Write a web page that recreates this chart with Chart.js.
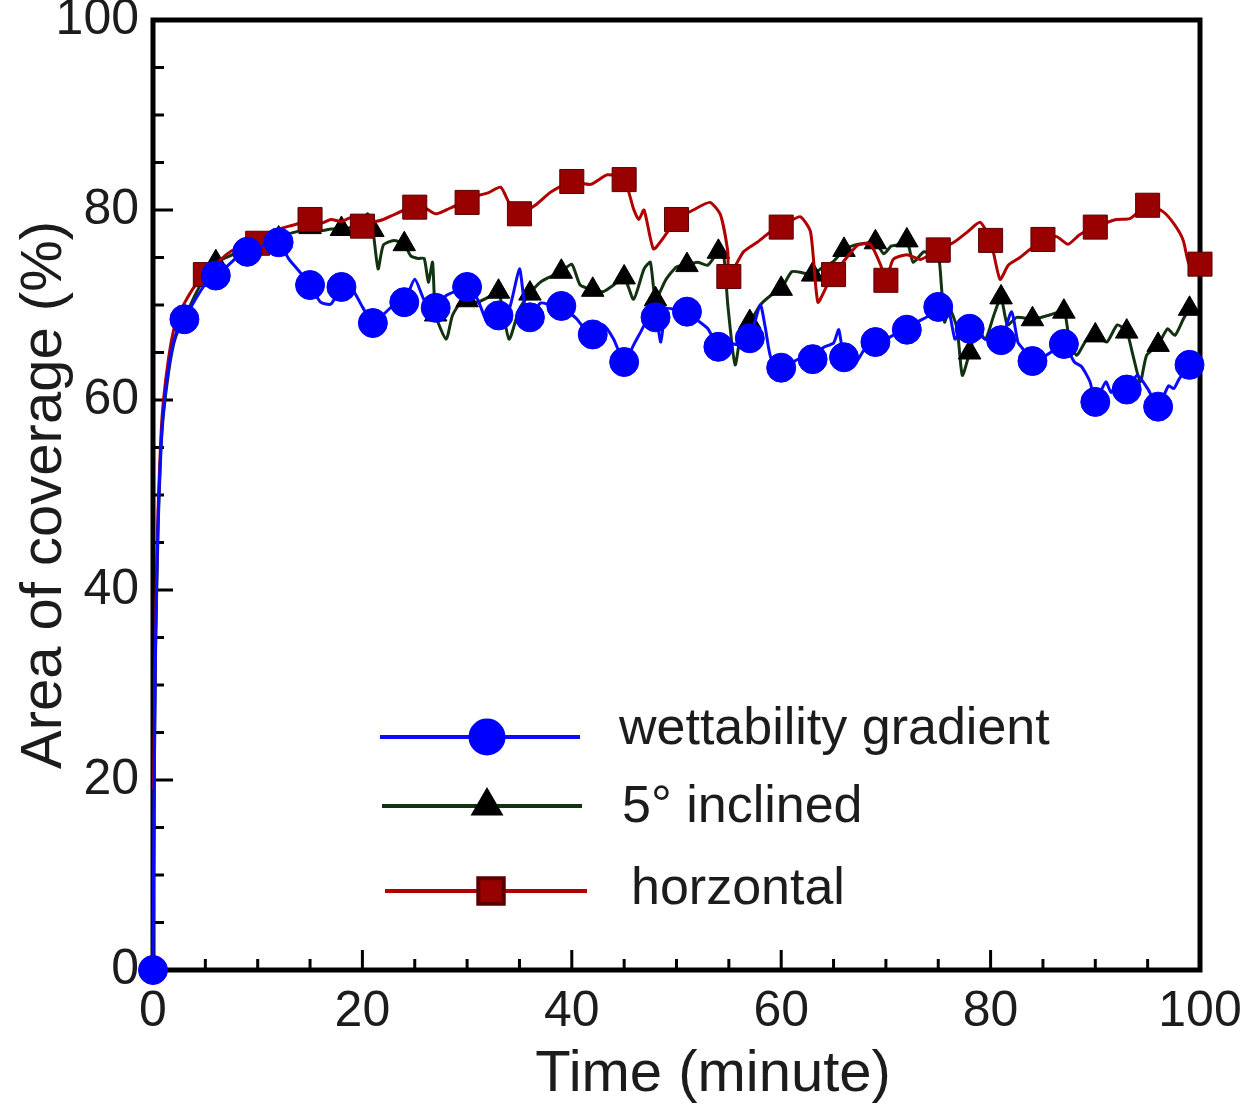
<!DOCTYPE html>
<html>
<head>
<meta charset="utf-8">
<script src="https://cdn.jsdelivr.net/npm/chart.js@4.4.0/dist/chart.umd.min.js"></script>
<style>
  html, body { margin: 0; padding: 0; background: #fff; }
</style>
</head>
<body>
<canvas id="coverage-chart" width="1248" height="1105"></canvas>
<script>
// ---- Data ----
const xTicks = [0, 20, 40, 60, 80, 100];
const yTicks = [0, 20, 40, 60, 80, 100];

const seriesNames = ['wettability gradient', '5\u00B0 inclined', 'horzontal'];

const gradientTime = [0, 0.1, 0.25, 0.5, 0.75, 1, 1.5, 2, 2.5, 3, 4, 5, 6, 7, 8, 9, 10, 11, 12, 13, 14, 15, 16, 17, 18, 19, 20,
  21, 22, 23, 24, 25, 26, 27, 28, 29, 30, 31, 32, 33, 34, 35, 35.5, 36, 37, 38, 39, 40, 40.5, 41, 42, 43, 44, 45, 46,
  46.6, 47, 48, 48.5, 49, 50, 51, 52, 53, 54, 55, 56, 57, 58, 58.5, 59, 60, 61, 62, 63, 64, 65, 65.5, 66, 67, 68, 69,
  70, 71, 72, 73, 74, 75, 75.8, 76.2, 76.6, 77, 78, 79, 79.5, 80, 81, 82, 82.6, 83, 84, 85, 86, 87, 88, 88.7, 89.5,
  90, 91, 91.5, 92, 93, 94, 95, 96, 97, 97.5, 98, 99, 99.5];
const gradientCoverage = [0, 18, 35, 48, 55, 59, 63.5, 66.3, 67.8, 68.5, 70.5, 72.2, 73.1, 74, 75, 75.6, 76, 76.5, 76.6, 74.8, 73.5, 72.1, 70.3, 70.1, 71.9, 71.7, 69.8,
  68.1, 69, 70, 70.3, 72.7, 70.3, 69.7, 71, 71.5, 71.9, 70.6, 68, 68.9, 69.5, 73.8, 70, 68.7, 70.2, 70, 69.9, 69, 68.5, 67.8, 66.9, 67.9, 66.4, 64.0, 66,
  67.2, 68, 68.7, 66.1, 69.6, 69.5, 69.3, 68.4, 67.5, 65.6, 66, 65.8, 66.5, 70, 67.5, 64.5, 63.4, 63.9, 64.5, 64.3, 65.5, 66, 67.4, 64.5, 63.8, 65.4, 66.1,
  66.4, 67, 67.4, 68.2, 68.8, 69.8, 70.3, 68.5, 66.4, 67, 67.5, 66.8, 66.4, 66.5, 66.3, 69.3, 66.1, 65.5, 64.1, 64.5, 65.2, 65.9, 64, 63.5, 61.9,
  59.8, 61.9, 60.8, 61.5, 61.1, 62.6, 61.2, 59.3, 61.5, 61.2, 62.2, 63.7, 64.3];

const inclinedTime = [0, 0.1, 0.25, 0.5, 0.75, 1, 1.5, 2, 2.5, 3, 4, 5, 6, 7, 8, 9, 10, 11, 12, 13, 14, 15, 16, 17, 18, 19, 20,
  20.5, 21, 21.5, 22, 23, 24, 24.6, 25.3, 25.9, 26.3, 26.7, 27, 28, 28.6, 29.4, 30, 31, 32, 33, 34, 35, 36, 37, 38, 39, 40,
  40.8, 42, 43, 44, 45, 45.9, 46.9, 47.5, 48, 49, 50, 51, 52, 53, 54, 54.5, 54.9, 55.6, 56.3, 57, 58, 59, 60, 61, 62, 63,
  64, 65, 66, 67, 68, 69, 69.8, 70.5, 71, 72, 72.6, 73.6, 74.2, 75, 75.3, 75.6, 76.1, 76.8, 77.3, 78, 78.7, 79.5, 80.3, 81,
  81.6, 82.5, 84, 85.5, 87, 87.4, 88.2, 89.2, 90, 91.1, 92.1, 93, 93.6, 94.3, 94.9, 96, 96.9, 97.6, 98.4, 99, 99.5];
const inclinedCoverage = [0, 17, 34, 47, 54.5, 58.5, 63, 66, 67.6, 68.6, 71, 73, 74.5, 75, 75.5, 75.9, 76.3, 76.8, 77, 77.5, 77.8, 78.2, 77.8, 78, 78, 78.2, 78.5,
  79.6, 77.9, 73.8, 76.3, 76.8, 76.4, 75.2, 74.9, 74.9, 72.4, 74.5, 69, 66.4, 68.9, 70.3, 70.5, 70.3, 70.8, 71.4, 66.4, 69.6, 71.2, 72.4, 73, 73.5, 74.3,
  72.1, 71.6, 71.4, 72.1, 72.9, 70.6, 73.8, 74.5, 70.6, 72.7, 74, 74.2, 74.5, 74.2, 75.6, 75.3, 70, 63.7, 67.9, 68.2, 70, 71, 71.7, 73.5, 73.4, 73.2,
  74, 74.6, 75.8, 76.3, 76.5, 76.6, 75.4, 76.2, 76.3, 76.8, 74.5, 75.6, 75.4, 75.2, 72, 68.2, 69.6, 67.5, 62.6, 65, 67.5, 66.4, 68.9, 70.8,
  67.9, 68.7, 68.5, 68.9, 69.3, 67.2, 64.7, 66.4, 66.8, 66.1, 67.9, 67.2, 64.7, 61.9, 64.7, 65.8, 67.5, 66.8, 68.5, 69.6, 70];

const horizontalTime = [0.05, 0.25, 0.5, 0.75, 1, 1.5, 2, 2.5, 3, 4, 5, 6, 7, 8, 9, 10, 11, 12, 13, 14, 15, 16, 17, 18, 19, 20,
  20.5, 21, 22, 23, 24, 25, 26, 27, 28, 29, 30, 31, 32, 33.2, 34, 35, 36.5, 38, 40, 41.8, 43.4, 45, 45.9, 46.4, 46.9, 47.8,
  48.7, 50, 51.6, 53.2, 54.2, 54.9, 55, 56.4, 57.7, 59, 60, 61.8, 62.8, 63.5, 64.4, 65, 65.9, 67.3, 68.5, 69.5, 70, 70.7,
  72, 73.3, 75, 76.5, 77.8, 79, 80, 80.9, 81.7, 82.8, 85, 86.3, 87.4, 88.5, 90, 92, 93.3, 95, 96.5, 97.6, 98.4, 99, 100];
const horizontalCoverage = [19, 37, 49, 56, 60, 64.5, 67.5, 69, 70.2, 72, 73.2, 74.3, 75.3, 76, 76.3, 76.5, 77.6, 78, 78.3, 78.6, 79, 78.6, 79, 78.8, 79.2, 78.3,
  79.3, 78.8, 79, 79.5, 80, 80.3, 80.2, 79.6, 80, 80.5, 80.8, 81.5, 81.8, 82.4, 80.8, 79.6, 80.5, 81.9, 83, 82.7, 83.7, 83.2, 80.1, 79, 80, 75.9,
  77, 79, 80, 80.8, 79.5, 75.6, 73, 75.6, 76.6, 77.7, 78.2, 79.3, 77.7, 70.3, 72.1, 73.2, 74.5, 76.3, 76.4, 74.2, 72.6, 74.8,
  75.3, 74.8, 75.8, 76.6, 77.7, 78.7, 76.8, 72.7, 74.2, 75, 76.9, 77.2, 76.4, 77.4, 78.2, 79, 79.1, 80.5, 79.8, 78.4, 76.8, 74.2, 74.3];

// ---- Helpers ----
const toPoints = function (times, values) {
    return times.map(function (t, i) { return { x: t, y: values[i] }; });
};

// marker only every `step` minutes, like the original plot
const markerEvery = function (step, size) {
    return function (ctx) {
        const t = ctx.raw ? ctx.raw.x : null;
        return (Number.isInteger(t) && t % step === 0) ? size : 0;
    };
};

const FONT = "'Liberation Sans', Arial, sans-serif";
const TEXT_COLOR = '#1c1c1c';

// ---- Frame + inward tick marks + x title ----
const framePlugin = {
    id: 'frame',
    beforeDatasetsDraw: function (chart) {
        const ctx = chart.ctx;
        const area = chart.chartArea;
        const xs = chart.scales.x;
        const ys = chart.scales.y;
        ctx.save();
        ctx.strokeStyle = '#000';
        ctx.lineWidth = 5;
        ctx.strokeRect(area.left, area.top, area.right - area.left, area.bottom - area.top);
        ctx.lineWidth = 3;
        ctx.beginPath();
        for (let v = 5; v < 100; v += 5) {
            const len = (v % 20 === 0) ? 20 : 11;
            const px = xs.getPixelForValue(v);
            ctx.moveTo(px, area.bottom);
            ctx.lineTo(px, area.bottom - len);
            const py = ys.getPixelForValue(v);
            ctx.moveTo(area.left, py);
            ctx.lineTo(area.left + len, py);
        }
        ctx.stroke();

        // x axis title sits a bit right of centre in the original
        ctx.fillStyle = TEXT_COLOR;
        ctx.font = '58px ' + FONT;
        ctx.textAlign = 'center';
        ctx.textBaseline = 'alphabetic';
        ctx.fillText('Time (minute)', xs.getPixelForValue(53.5), 1091);
        ctx.restore();
    }
};

// ---- Legend drawn inside the plot ----
const legendRows = {
    'wettability gradient': { y: 737, x1: 380, x2: 580, mx: 487, tx: 619, ty: 744, r: 16.5 },
    '5\u00B0 inclined': { y: 806, x1: 382, x2: 582, mx: 487, tx: 622, ty: 822, r: 15 },
    'horzontal': { y: 891, x1: 385, x2: 587, mx: 491, tx: 631, ty: 904, r: 18 }
};

const insideLegendPlugin = {
    id: 'insideLegend',
    afterDraw: function (chart) {
        const ctx = chart.ctx;
        ctx.save();
        chart.data.datasets.forEach(function (ds) {
            const row = legendRows[ds.label];
            ctx.strokeStyle = ds.borderColor;
            ctx.lineWidth = 4;
            ctx.beginPath();
            ctx.moveTo(row.x1, row.y);
            ctx.lineTo(row.x2, row.y);
            ctx.stroke();
            ctx.fillStyle = ds.pointBackgroundColor;
            ctx.strokeStyle = ds.pointBorderColor;
            Chart.helpers.drawPoint(ctx, {
                pointStyle: ds.pointStyle,
                radius: row.r,
                rotation: 0,
                borderWidth: 1
            }, row.mx, row.y);
            ctx.fillStyle = TEXT_COLOR;
            ctx.font = '52px ' + FONT;
            ctx.textBaseline = 'alphabetic';
            ctx.textAlign = 'left';
            ctx.fillText(ds.label, row.tx, row.ty);
        });
        ctx.restore();
    }
};

const el = document.getElementById('coverage-chart');
new Chart(el.getContext('2d'), {
    type: 'line',
    data: {
        datasets: [
            {
                label: seriesNames[0],
                data: toPoints(gradientTime, gradientCoverage),
                borderColor: '#0a0aff',
                borderWidth: 3,
                pointStyle: 'circle',
                pointBackgroundColor: '#0000ff',
                pointBorderColor: '#0000ff',
                pointBorderWidth: 1,
                pointRadius: markerEvery(3, 14.5),
                tension: 0.2,
                clip: false
            },
            {
                label: seriesNames[2],
                data: toPoints(horizontalTime, horizontalCoverage),
                borderColor: '#b00000',
                borderWidth: 3,
                pointStyle: 'rect',
                pointBackgroundColor: '#990000',
                pointBorderColor: '#5a0000',
                pointBorderWidth: 1,
                pointRadius: markerEvery(5, 17),
                tension: 0.2,
                clip: false
            },
            {
                label: seriesNames[1],
                data: toPoints(inclinedTime, inclinedCoverage),
                borderColor: '#123312',
                borderWidth: 3,
                pointStyle: 'triangle',
                pointBackgroundColor: '#000000',
                pointBorderColor: '#000000',
                pointBorderWidth: 1,
                pointRadius: markerEvery(3, 13),
                tension: 0.2,
                clip: false
            }
        ]
    },
    options: {
        responsive: false,
        animation: false,
        layout: { padding: { left: 0, top: 20, right: 48, bottom: 0 } },
        plugins: {
            legend: { display: false },
            tooltip: { enabled: false }
        },
        elements: { point: { hoverRadius: 0 } },
        scales: {
            x: {
                type: 'linear',
                min: 0,
                max: 100,
                afterBuildTicks: function (scale) {
                    scale.ticks = xTicks.map(function (v) { return { value: v }; });
                },
                afterFit: function (scale) {
                    scale.height = 135;
                    scale.paddingLeft = 0;
                    scale.paddingRight = 0;
                },
                grid: { display: false, drawTicks: false },
                border: { display: false },
                ticks: {
                    font: { family: FONT, size: 50 },
                    color: TEXT_COLOR,
                    padding: 12,
                    maxRotation: 0
                },
                title: { display: false }
            },
            y: {
                type: 'linear',
                min: 0,
                max: 100,
                afterBuildTicks: function (scale) {
                    scale.ticks = yTicks.map(function (v) { return { value: v }; });
                },
                afterFit: function (scale) {
                    scale.width = 153;
                    scale.paddingTop = 0;
                    scale.paddingBottom = 0;
                },
                grid: { display: false, drawTicks: false },
                border: { display: false },
                ticks: {
                    font: { family: FONT, size: 50 },
                    color: TEXT_COLOR,
                    padding: 14
                },
                title: {
                    display: true,
                    text: 'Area of coverage (%)',
                    font: { family: FONT, size: 58 },
                    color: TEXT_COLOR,
                    padding: { top: 10, bottom: 4 }
                }
            }
        }
    },
    plugins: [framePlugin, insideLegendPlugin]
});
</script>
</body>
</html>
